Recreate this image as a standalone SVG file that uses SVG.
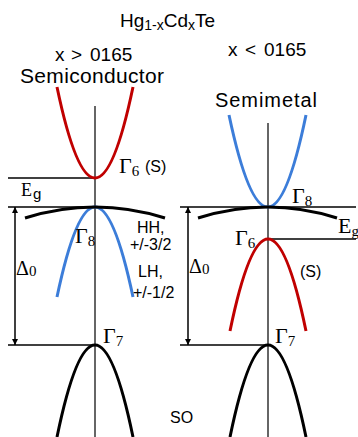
<svg xmlns="http://www.w3.org/2000/svg" width="358" height="437" viewBox="0 0 358 437">
<style>
.sans{font-family:"Liberation Sans",Arial,sans-serif;fill:#000}
.serif{font-family:"Liberation Serif","Times New Roman",serif;fill:#000}
.axis{stroke:#333;stroke-width:1.5;fill:none}
.hl{stroke:#000;stroke-width:1.5;fill:none}
.red{stroke:#c00000;stroke-width:3;fill:none}
.blue{stroke:#3c7dd9;stroke-width:3;fill:none}
.blk{stroke:#000;stroke-width:3;fill:none}
.arr{stroke:#000;stroke-width:1.5;fill:none;marker-start:url(#ah);marker-end:url(#ah)}
</style>
<defs>
<marker id="ah" viewBox="0 0 10 10" refX="10" refY="5" markerWidth="6" markerHeight="6" orient="auto-start-reverse" markerUnits="userSpaceOnUse"><path d="M0,0 L10,5 L0,10 Z" fill="#000"/></marker>
</defs>
<rect width="358" height="437" fill="#fff"/>
<g id="title">
<text class="sans" x="120" y="27" font-size="19">Hg<tspan font-size="14" dy="3">1-x</tspan><tspan dy="-3">Cd</tspan><tspan font-size="14" dy="3">x</tspan><tspan dy="-3">Te</tspan></text>
</g>
<g id="left-header">
<text class="sans" y="61" font-size="19"><tspan x="55">x</tspan><tspan x="71">&gt;</tspan><tspan x="90">0165</tspan></text>
<text class="sans" x="20" y="83" font-size="21" textLength="144">Semiconductor</text>
</g>
<g id="right-header">
<text class="sans" y="56" font-size="19"><tspan x="228">x</tspan><tspan x="245">&lt;</tspan><tspan x="264">0165</tspan></text>
<text class="sans" x="215" y="107" font-size="20" textLength="102">Semimetal</text>
</g>
<g id="connectors">
<line class="axis" x1="95" y1="106" x2="95" y2="437"/>
<line class="axis" x1="268" y1="123" x2="268" y2="437"/>
<line class="hl" x1="8" y1="178" x2="95" y2="178"/>
<line class="hl" x1="8" y1="207" x2="95" y2="207"/>
<line class="hl" x1="8" y1="345" x2="95" y2="345"/>
<line class="hl" x1="180" y1="207" x2="356" y2="207"/>
<line class="hl" x1="268" y1="239" x2="356" y2="239"/>
<line class="hl" x1="180" y1="345" x2="268" y2="345"/>
<line class="arr" x1="15" y1="345" x2="15" y2="207"/>
<line class="arr" x1="188" y1="345" x2="188" y2="207"/>
</g>
<g id="left-bands">
<path class="red" d="M57,87 Q95,269 133,87"/>
<path class="blue" d="M57,297 Q95,117 133,297"/>
<path class="blk" d="M25,218 Q95,196 165,218"/>
<path class="blk" d="M57,437 Q95,253 133,437"/>
</g>
<g id="right-bands">
<path class="blue" d="M229,115 Q268,299 306,115"/>
<path class="red" d="M230,331 Q268,147 306,331"/>
<path class="blk" d="M198,218 Q268,196 337,218"/>
<path class="blk" d="M230,437 Q268,253 306,437"/>
</g>
<g id="left-labels">
<text class="serif" x="119" y="173" font-size="22">Γ<tspan font-size="15" dy="3">6</tspan></text>
<text class="sans" x="145" y="172" font-size="16">(S)</text>
<text class="serif" x="21" y="196" font-size="18">E</text>
<text class="sans" x="33" y="199" font-size="15">g</text>
<text class="serif" x="75" y="243" font-size="22">Γ<tspan font-size="15" dy="3">8</tspan></text>
<text class="serif" x="16" y="275" font-size="20">Δ<tspan font-size="15" dy="1">0</tspan></text>
<text class="sans" x="137" y="233" font-size="16">HH,</text>
<text class="sans" x="130" y="250" font-size="16">+/-3/2</text>
<text class="sans" x="138" y="277" font-size="16">LH,</text>
<text class="sans" x="133" y="298" font-size="16">+/-1/2</text>
<text class="serif" x="103" y="343" font-size="22">Γ<tspan font-size="15" dy="3">7</tspan></text>
<text class="sans" x="170" y="423" font-size="16">SO</text>
</g>
<g id="right-labels">
<text class="serif" x="292" y="203" font-size="22">Γ<tspan font-size="15" dy="3">8</tspan></text>
<text class="serif" x="338" y="233" font-size="22">E<tspan font-size="15" dy="3">g</tspan></text>
<text class="serif" x="235" y="245" font-size="22">Γ<tspan font-size="15" dy="3">6</tspan></text>
<text class="sans" x="300" y="277" font-size="16">(S)</text>
<text class="serif" x="189" y="273" font-size="20">Δ<tspan font-size="15" dy="1">0</tspan></text>
<text class="serif" x="275" y="343" font-size="22">Γ<tspan font-size="15" dy="3">7</tspan></text>
</g>
</svg>
